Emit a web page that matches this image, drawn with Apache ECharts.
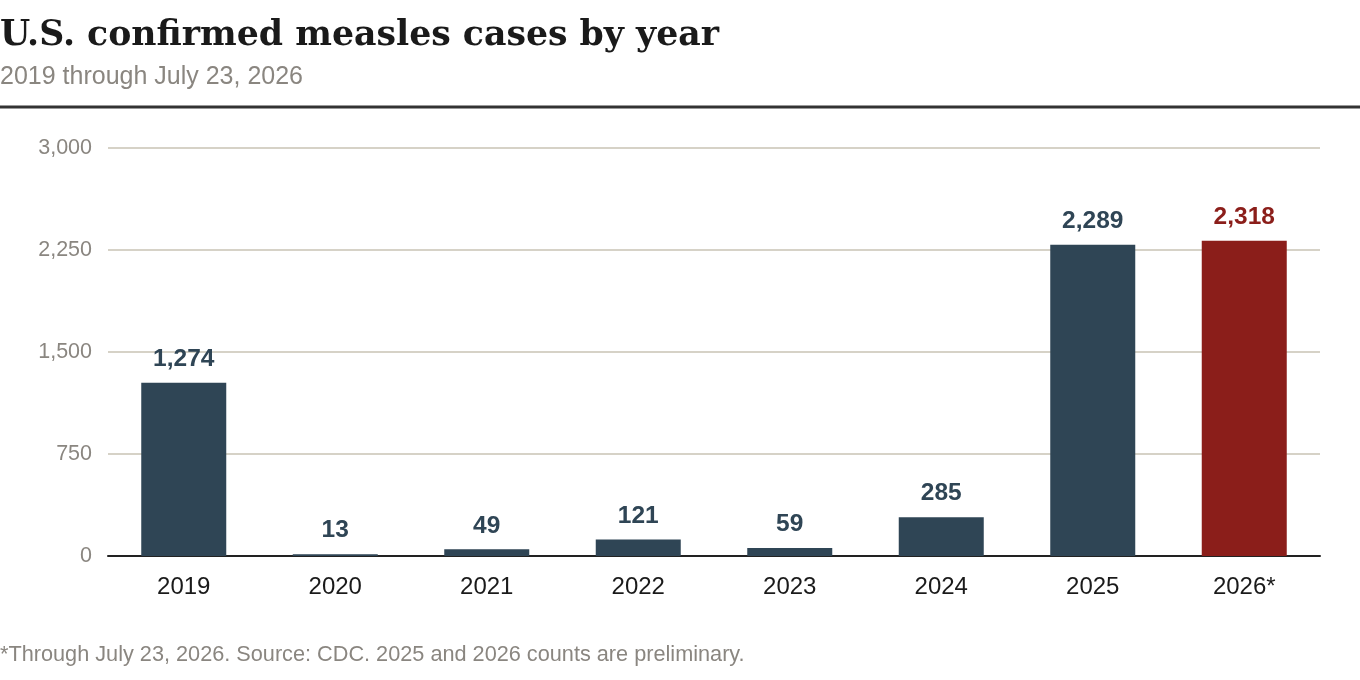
<!DOCTYPE html>
<html>
<head>
<meta charset="utf-8">
<script src="https://cdn.jsdelivr.net/npm/echarts@6/dist/echarts.min.js"></script>
<style>
  html, body { margin: 0; padding: 0; background: #fff; }
  #chart { width: 1360px; height: 680px; }
</style>
</head>
<body>
<div id="chart"></div>
<script>
// 数据
const years = ['2019', '2020', '2021', '2022', '2023', '2024', '2025', '2026*']
const cases = [1274, 13, 49, 121, 59, 285, 2289, 2318]
const yTicks = [0, 750, 1500, 2250, 3000]

const barColor = '#2f4555'
const hiColor = '#8b1e1a'

const chart = echarts.init(document.getElementById('chart'))
chart.setOption({
  animation: false,
  title: [
    {
      text: 'U.S. confirmed measles cases by year',
      left: -5,
      top: 13,
      textStyle: { fontFamily: 'DejaVu Serif', fontWeight: 'bold', fontSize: 34.7, color: '#1a1a1a' }
    },
    {
      text: '2019 through July 23, 2026',
      left: -5,
      top: 60,
      textStyle: { fontFamily: 'Liberation Sans', fontWeight: 'normal', fontSize: 25, color: '#8a8680' }
    },
    {
      text: '*Through July 23, 2026. Source: CDC. 2025 and 2026 counts are preliminary.',
      left: -5,
      top: 639,
      textStyle: { fontFamily: 'Liberation Sans', fontWeight: 'normal', fontSize: 21.7, color: '#8a8680' }
    }
  ],
  graphic: [
    {
      type: 'line',
      shape: { x1: 0, y1: 107, x2: 1360, y2: 107 },
      style: { stroke: '#333', lineWidth: 3 }
    }
  ],
  grid: { left: 108, right: 40, top: 148, bottom: 124 },
  xAxis: {
    type: 'category',
    data: years,
    axisLine: { lineStyle: { color: '#222', width: 2 } },
    axisTick: { show: false },
    axisLabel: { fontFamily: 'Liberation Sans', fontSize: 24, color: '#1a1a1a', margin: 19 }
  },
  yAxis: {
    type: 'value',
    min: yTicks[0],
    max: yTicks[yTicks.length - 1],
    interval: 750,
    axisLine: { show: false },
    axisTick: { show: false },
    splitLine: { lineStyle: { color: '#c8c3b5', width: 1.5 } },
    axisLabel: {
      fontFamily: 'Liberation Sans', fontSize: 21.5, color: '#8a8680', margin: 16,
      formatter: v => v.toLocaleString('en-US')
    }
  },
  series: [{
    type: 'bar',
    barWidth: 85,
    data: cases.map((v, i) => ({
      value: v,
      itemStyle: { color: i === cases.length - 1 ? hiColor : barColor },
      label: { color: i === cases.length - 1 ? hiColor : barColor }
    })),
    label: {
      show: true,
      position: 'top',
      distance: 11,
      fontFamily: 'Liberation Sans',
      fontWeight: 'bold',
      fontSize: 24.5,
      formatter: p => p.value.toLocaleString('en-US')
    }
  }]
})
</script>
</body>
</html>
